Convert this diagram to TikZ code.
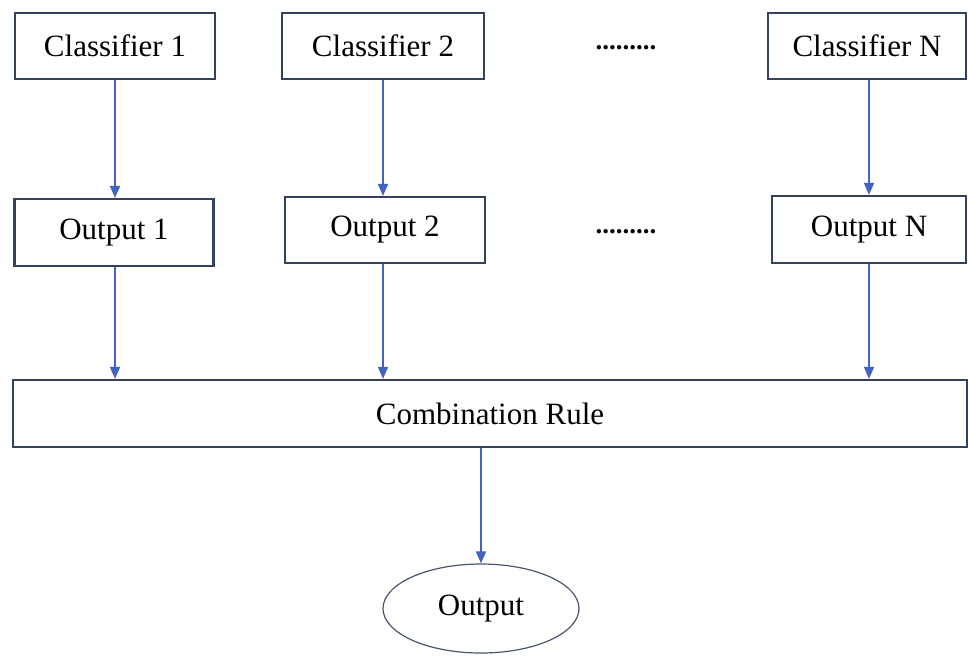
\documentclass[tikz,border=0pt]{standalone}
\usepackage{fontspec}
\setmainfont{Liberation Serif}
\usetikzlibrary{shapes.geometric,arrows.meta}
\definecolor{boxline}{HTML}{34425E}
\definecolor{arrowblue}{HTML}{4262C4}
\begin{document}
\begin{tikzpicture}[x=0.5pt,y=-0.5pt,
  box/.style={draw=boxline,line width=1.1pt,rectangle,inner sep=0pt,
    font=\fontsize{15.5}{18}\selectfont},
  oval/.style={draw=boxline!90,line width=0.6pt,ellipse,inner sep=0pt,
    font=\fontsize{15.5}{18}\selectfont},
  dotsep/.style={inner sep=0pt,font=\fontsize{13.5}{16}\selectfont\bfseries},
  flow/.style={draw=arrowblue,line width=0.8pt,
    -{Triangle[length=6pt,width=5pt]}}]
\useasboundingbox (0,0) rectangle (968,655);

% classifiers
\node[box,minimum width=100pt,minimum height=33pt] (c1) at (115,46) {Classifier 1};
\node[box,minimum width=101pt,minimum height=33pt] (c2) at (383,46) {Classifier 2};
\node[box,minimum width=99pt,minimum height=33pt] (cn) at (867,46) {Classifier N};
\node[dotsep] (d1) at (626,48) {.........};

% individual outputs
\node[box,minimum width=99.5pt,minimum height=33.5pt] (o1) at (114,232.5) {Output 1};
\node[box,minimum width=100pt,minimum height=33pt] (o2) at (385,230) {Output 2};
\node[box,minimum width=97pt,minimum height=33.5pt] (on) at (869,229.5) {Output N};
\node[dotsep] (d2) at (626,232) {.........};

% combination and final output
\node[box,minimum width=477pt,minimum height=33.5pt] (comb) at (490,413.5) {Combination Rule};
\node[oval,minimum width=98pt,minimum height=44.5pt] (out) at (481,608.5) {Output};

% connectors
\draw[flow] (c1.south) -- (c1.south |- o1.north);
\draw[flow] (c2.south) -- (c2.south |- o2.north);
\draw[flow] (cn.south -| on.north) -- (on.north);
\draw[flow] (o1.south -| c1.south) -- (c1.south |- comb.north);
\draw[flow] (o2.south -| c2.south) -- (c2.south |- comb.north);
\draw[flow] (on.south) -- (on.south |- comb.north);
\draw[flow] (comb.south -| out.north) -- (out.north);
\end{tikzpicture}
\end{document}
